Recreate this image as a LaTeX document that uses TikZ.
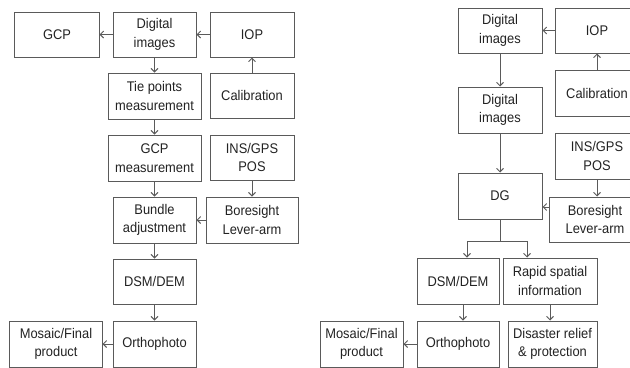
\documentclass[tikz,border=0pt]{standalone}
\usepackage{fontspec}
\setmainfont{Liberation Sans}[FakeStretch=0.92]
\usetikzlibrary{arrows.meta}
\definecolor{edge}{HTML}{5A5A5A}
\definecolor{txt}{HTML}{222222}
\tikzset{
  box/.style 2 args={draw=edge, line width=1bp, minimum width=#1bp, minimum height=#2bp,
    inner sep=0pt, align=center, text=txt, font=\fontsize{14bp}{18.5bp}\selectfont},
  arr/.style={draw=edge, line width=0.9bp, -{Straight Barb[length=3.5bp,width=7bp]}},
  ln/.style={draw=edge, line width=0.9bp}
}
\begin{document}
\begin{tikzpicture}[x=1bp,y=-1bp]
\useasboundingbox (0,0) rectangle (630,367);
\clip (0,0) rectangle (630,367);
% left diagram
\node[box={84}{45}] (GCP) at (57,34.5) {GCP};
\node[box={83}{45}] (DigL) at (154.5,34.5) {Digital\\images};
\node[box={84}{45}] (IOPL) at (252,34.5) {IOP};
\node[box={93}{46}] (Tie) at (154.5,96) {Tie points\\measurement};
\node[box={84}{45}] (Cal) at (252,95.5) {Calibration};
\node[box={93}{46}] (GCPm) at (154.5,158) {GCP\\measurement};
\node[box={84}{45}] (INS) at (252,157.5) {INS/GPS\\POS};
\node[box={83}{46}] (Bundle) at (154.5,220) {Bundle\\adjustment};
\node[box={92}{46}] (Bore) at (252,220) {Boresight\\Lever-arm};
\node[box={83}{45}] (DSM) at (154.5,281.5) {DSM/DEM};
\node[box={83}{46}] (Ortho) at (154.5,344) {Orthophoto};
\node[box={92}{46}] (Mos) at (56,344) {Mosaic/Final\\product};
\draw[arr] (DigL) -- (GCP);
\draw[arr] (IOPL) -- (DigL);
\draw[arr] (DigL) -- (Tie);
\draw[arr] (Cal) -- (IOPL);
\draw[arr] (Tie) -- (GCPm);
\draw[arr] (GCPm) -- (Bundle);
\draw[arr] (INS) -- (Bore);
\draw[arr] (Bore) -- (Bundle);
\draw[arr] (Bundle) -- (DSM);
\draw[arr] (DSM) -- (Ortho);
\draw[arr] (Ortho) -- (Mos);
% right diagram
\node[box={84}{45}] (Dig1) at (500,30.5) {Digital\\images};
\node[box={84}{45}] (IOPR) at (597,30.5) {IOP};
\node[box={84}{46}] (Dig2) at (500,110) {Digital\\images};
\node[box={84}{46}] (CalR) at (597,93) {Calibration};
\node[box={84}{46}] (INSR) at (597,156) {INS/GPS\\POS};
\node[box={84}{46}] (DG) at (500,196) {DG};
\node[box={92}{45}] (BoreR) at (595,219.5) {Boresight\\Lever-arm};
\node[box={82}{46}] (DSMR) at (458,281) {DSM/DEM};
\node[box={94}{46}] (Rapid) at (550,281) {Rapid spatial\\information};
\node[box={82}{46}] (OrthoR) at (458,344) {Orthophoto};
\node[box={89}{46}] (Dis) at (552.5,344) {Disaster relief\\\& protection};
\node[box={83}{46}] (MosR) at (361.5,344) {Mosaic/Final\\product};
\draw[arr] (IOPR) -- (Dig1);
\draw[arr] (Dig1) -- (Dig2);
\draw[arr] (Dig2) -- (DG);
\draw[arr] (CalR) -- (IOPR);
\draw[arr] (INSR.south) -- (INSR.south |- BoreR.north);
\draw[arr] ([yshift=12.5bp]BoreR.west) -- ([yshift=12.5bp]BoreR.west -| DG.east);
\coordinate (bl) at (467,241);
\coordinate (br) at (527,241);
\draw[ln] (DG.south) -- (DG.south |- bl);
\draw[ln] (bl) -- (br);
\draw[arr] (bl) -- (bl |- DSMR.north);
\draw[arr] (br) -- (br |- Rapid.north);
\draw[arr] ([xshift=5bp]DSMR.south) -- ([xshift=5bp]OrthoR.north);
\draw[arr] (Rapid.south) -- (Rapid.south |- Dis.north);
\draw[arr] (OrthoR) -- (MosR);
\end{tikzpicture}
\end{document}
